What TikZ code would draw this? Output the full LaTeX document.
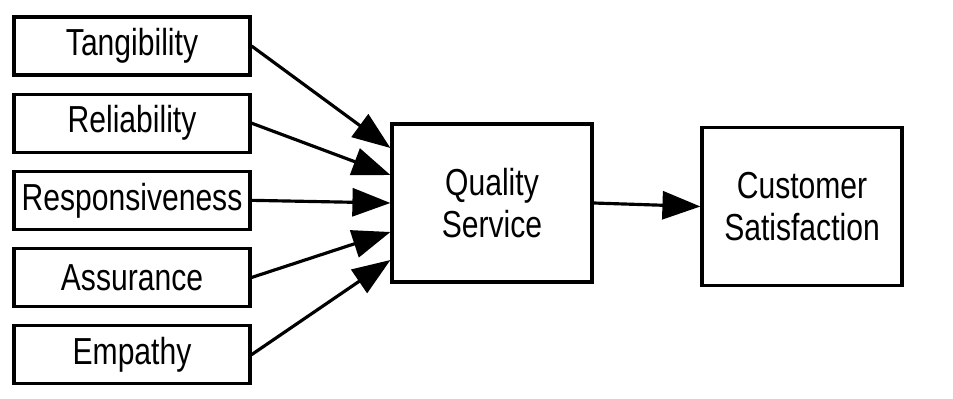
\documentclass[tikz,border=0pt]{standalone}
\usepackage{fontspec}
\setmainfont{Liberation Sans}[FakeStretch=0.8]
\usetikzlibrary{positioning,arrows.meta}

\begin{document}
\begin{tikzpicture}[x=1cm, y=1cm,
        every node/.style={font=\fontsize{10.7}{12.2}\selectfont},
        factor/.style={draw, line width=0.9pt, minimum width=2.36cm, minimum height=0.58cm, inner sep=0pt},
        outcome/.style={draw, line width=0.9pt, minimum width=2cm, minimum height=1.58cm, align=center, inner sep=0pt},
        link/.style={draw, line width=0.9pt, -{Triangle[length=0.38cm, width=0.28cm]}}]

    \useasboundingbox[fill=white] (0,0) rectangle (9.53,3.98);

    % Service quality dimensions
    \node[factor] (tang) at (1.32,3.52) {Tangibility};
    \node[factor, below=0.16cm of tang] (reli) {Reliability};
    \node[factor, below=0.16cm of reli] (resp) {Responsiveness};
    \node[factor, below=0.16cm of resp] (assu) {Assurance};
    \node[factor, below=0.16cm of assu] (empa) {Empathy};

    % Quality service and satisfaction
    \node[outcome] (qs) at (4.92,1.95) {Quality\\Service};
    \node[outcome] (cs) at (8.02,1.915) {Customer\\Satisfaction};

    % Arrows
    \draw[link] (tang.east) -- ([yshift=0.55cm]qs.west);
    \draw[link] (reli.east) -- ([yshift=0.28cm]qs.west);
    \draw[link] (resp.east) -- (qs.west);
    \draw[link] (assu.east) -- ([yshift=-0.29cm]qs.west);
    \draw[link] (empa.east) -- ([yshift=-0.57cm]qs.west);
    \draw[link] (qs.east) -- (cs.west);
\end{tikzpicture}
\end{document}
